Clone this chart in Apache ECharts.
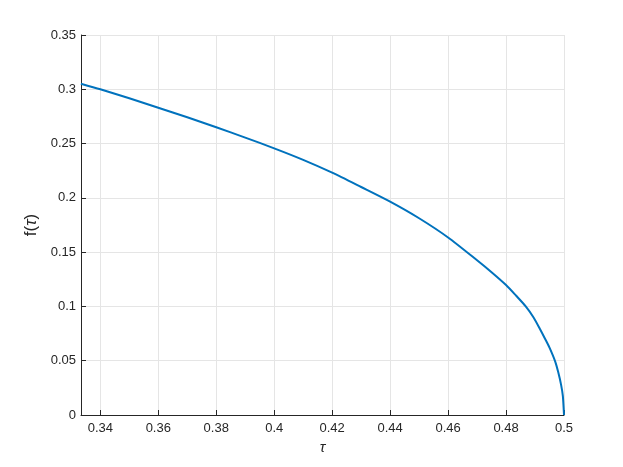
<!DOCTYPE html>
<html>
<head>
<meta charset="utf-8">
<script src="https://cdn.jsdelivr.net/npm/echarts@6/dist/echarts.min.js"></script>
<style>
  html, body { margin: 0; padding: 0; background: #fff; }
  #chart { width: 623px; height: 467px; }
</style>
</head>
<body>
<div id="chart"></div>
<script>
// values
const tauValues = [0.3333, 0.34, 0.35, 0.36, 0.37, 0.38, 0.39, 0.40, 0.41, 0.42, 0.43, 0.44, 0.45,
  0.46, 0.47, 0.475, 0.48, 0.4835, 0.4868, 0.4895, 0.4917, 0.4935, 0.495, 0.497, 0.498, 0.499, 0.4996, 0.5]
const fValues = [0.3051, 0.3000, 0.2917, 0.2830, 0.2742, 0.2650, 0.2555, 0.2456, 0.2350, 0.2232, 0.2100, 0.1965, 0.1812,
  0.1635, 0.1425, 0.1315, 0.1197, 0.1098, 0.1000, 0.0898, 0.0792, 0.0700, 0.0620, 0.0490, 0.0395, 0.0278, 0.0176, 0]
const xTickLabels = ['0.34', '0.36', '0.38', '0.4', '0.42', '0.44', '0.46', '0.48', '0.5']
const yTickLabels = ['0', '0.05', '0.1', '0.15', '0.2', '0.25', '0.3', '0.35']

const axisColor = '#262626'
const gridColor = '#e5e5e5'
const fontFamily = '"Liberation Sans", Arial, Helvetica, sans-serif'

const chart = echarts.init(document.getElementById('chart'))

const points = tauValues.map(function (t, i) { return [t, fValues[i]] })

function pickLabel(list, v) {
  const s = list.find(function (l) { return Math.abs(parseFloat(l) - v) < 1e-9 })
  return s || ''
}

chart.setOption({
  backgroundColor: '#ffffff',
  animation: false,
  grid: { left: 81, right: 59, top: 35, bottom: 52 },
  xAxis: {
    type: 'value',
    min: 1 / 3,
    max: 0.5,
    splitNumber: 8,
    minInterval: 0.02,
    maxInterval: 0.02,
    name: 'τ',
    nameLocation: 'middle',
    nameGap: 20,
    nameTextStyle: { fontFamily: fontFamily, fontSize: 15, fontStyle: 'italic', color: axisColor },
    axisLine: { show: true, lineStyle: { color: axisColor, width: 1 } },
    axisTick: { show: true, inside: true, length: 5, lineStyle: { color: axisColor } },
    axisLabel: {
      showMinLabel: false,
      margin: 7,
      color: axisColor,
      fontFamily: fontFamily,
      fontSize: 13,
      formatter: function (v) { return pickLabel(xTickLabels, v) }
    },
    splitLine: { show: true, lineStyle: { color: gridColor, width: 1 } }
  },
  yAxis: {
    type: 'value',
    min: 0,
    max: 0.35,
    interval: 0.05,
    name: '{a|f(}{b|τ}{a|)}',
    nameLocation: 'middle',
    nameGap: 28,
    nameTextStyle: {
      color: axisColor,
      rich: {
        a: { fontFamily: fontFamily, fontSize: 17, color: axisColor },
        b: { fontFamily: fontFamily, fontSize: 17, fontStyle: 'italic', color: axisColor }
      }
    },
    axisLine: { show: true, lineStyle: { color: axisColor, width: 1 } },
    axisTick: { show: true, inside: true, length: 5, lineStyle: { color: axisColor } },
    axisLabel: {
      margin: 5,
      color: axisColor,
      fontFamily: fontFamily,
      fontSize: 13,
      formatter: function (v) { return pickLabel(yTickLabels, v) }
    },
    splitLine: { show: true, lineStyle: { color: gridColor, width: 1 } }
  },
  series: [
    {
      type: 'line',
      data: points,
      smooth: 0.25,
      showSymbol: false,
      lineStyle: { color: '#0072BD', width: 2 },
      itemStyle: { color: '#0072BD' }
    }
  ]
})
</script>
</body>
</html>
